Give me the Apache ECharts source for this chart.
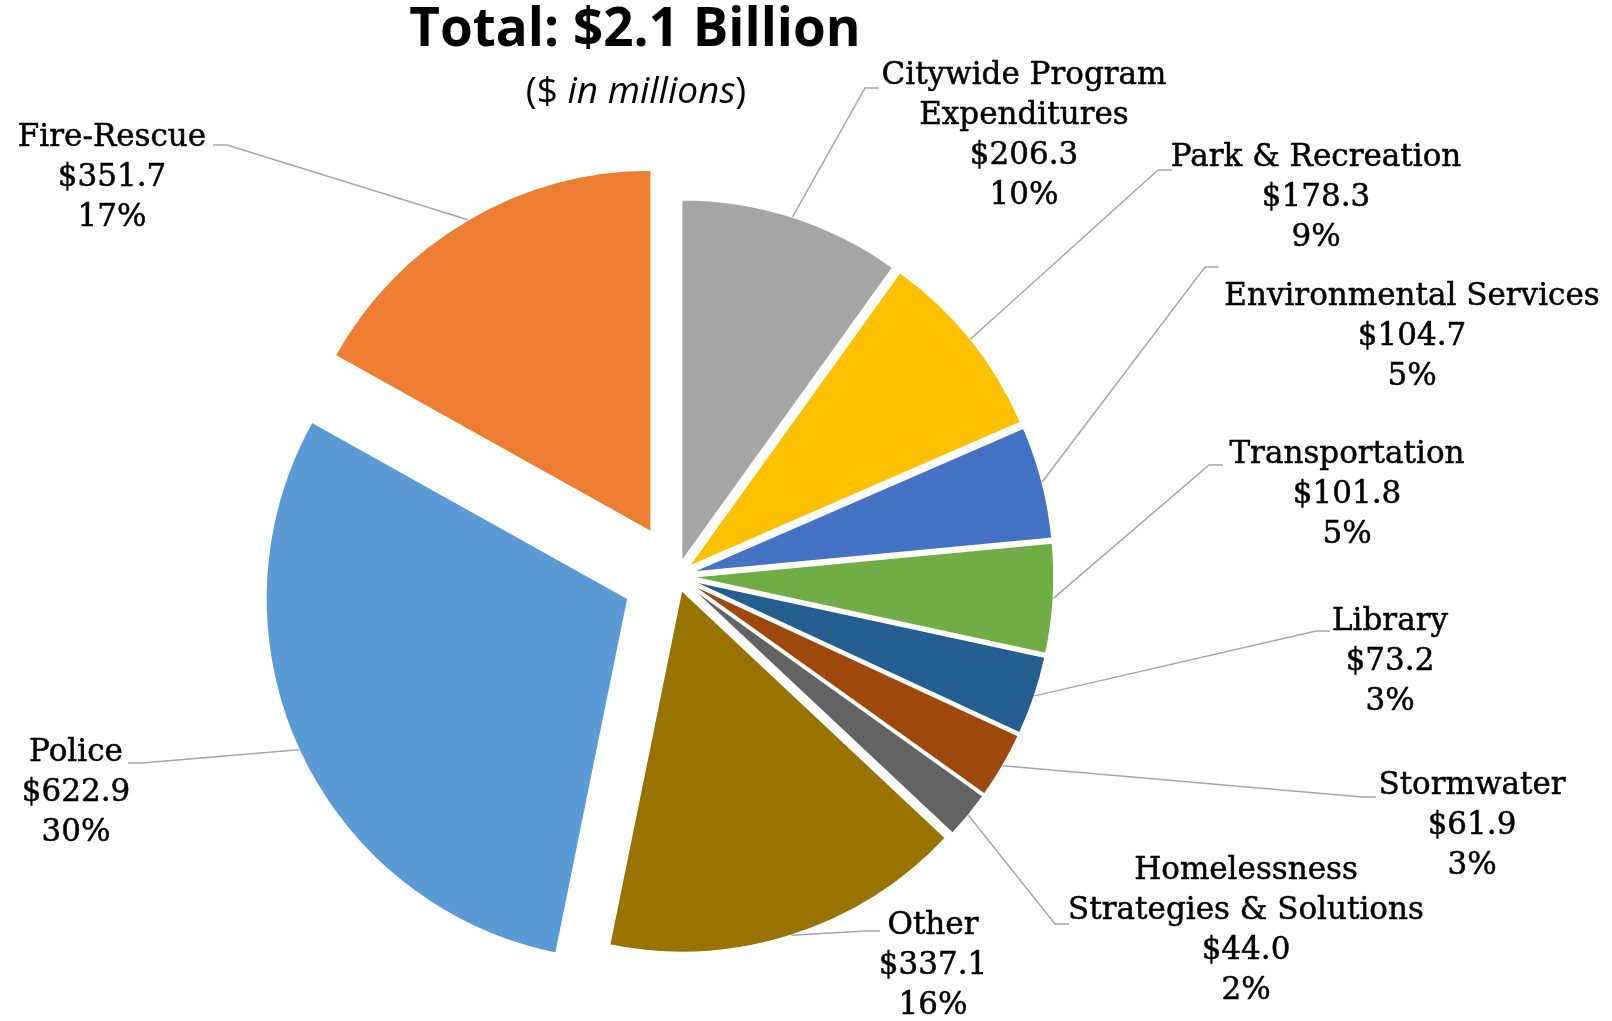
<!DOCTYPE html>
<html><head><meta charset="utf-8">
<script src="https://cdn.jsdelivr.net/npm/echarts@6/dist/echarts.min.js"></script>
<style>html,body{margin:0;padding:0;background:#fff}#c{width:1612px;height:1021px}</style>
</head><body><div id="c"></div>
<script>
// ---- data ----
const categories = ['Citywide Program\nExpenditures', 'Park & Recreation', 'Environmental Services',
  'Transportation', 'Library', 'Stormwater', 'Homelessness\nStrategies & Solutions', 'Other', 'Police', 'Fire-Rescue'];
const values = [206.3, 178.3, 104.7, 101.8, 73.2, 61.9, 44.0, 337.1, 622.9, 351.7];
const colors = ['#A5A5A5', '#FFC000', '#4472C4', '#70AD47', '#255E91', '#9E480E', '#636363', '#997300', '#5B9BD5', '#ED7D31'];
const titleText = 'Total: $2.1 Billion';
const subtitleText = '($ {i|in millions})';

// ---- layout (not data) ----
const pieCenter = [677, 576];
const pieRadius = 362;
const explodeGroups = [
  { offset: 15, members: [0, 1, 2, 3, 4, 5, 6, 7] },
  { offset: 54, members: [8] },
  { offset: 51, members: [9] }
];
// label block centres and leader-line end points
const labelCenters = [[1024, 136], [1316, 198], [1412, 337], [1347, 495], [1390, 662],
  [1472, 826], [1246, 931], [933, 966], [76, 793], [112, 178]];
const leaderEnds = [[879, 88], [1172, 170], [1219, 267], [1223, 465], [1330, 631],
  [1376, 797], [1069, 924], [880, 931], [128, 763], [213, 145]];

const chart = echarts.init(document.getElementById('c'), null, { renderer: 'canvas' });
const clear = 'rgba(0,0,0,0)';
const series = [];

explodeGroups.forEach(function (g) {
  const inG = function (i) { return g.members.indexOf(i) >= 0; };
  series.push({
    type: 'pie', center: pieCenter, radius: pieRadius, startAngle: 90, clockwise: true,
    selectedMode: 'multiple', selectedOffset: g.offset, silent: true, animation: false,
    avoidLabelOverlap: false, emphasis: { disabled: true },
    label: { show: false }, labelLine: { show: false },
    data: values.map(function (v, i) {
      return {
        name: categories[i], value: v, selected: inG(i),
        itemStyle: { color: inG(i) ? colors[i] : clear, borderColor: inG(i) ? '#ffffff' : clear, borderWidth: inG(i) ? 1.5 : 0 }
      };
    })
  });
});

explodeGroups.forEach(function (g) {
  const inG = function (i) { return g.members.indexOf(i) >= 0; };
  series.push({
    type: 'pie', center: pieCenter, radius: pieRadius + g.offset, startAngle: 90, clockwise: true,
    silent: true, animation: false, avoidLabelOverlap: false, percentPrecision: 0, z: 5,
    emphasis: { disabled: true },
    itemStyle: { color: clear, borderWidth: 0 },
    label: {
      show: true, position: 'outside', width: 440, overflow: 'none',
      fontFamily: 'DejaVu Serif', fontSize: 31, lineHeight: 40, color: '#000', align: 'center',
      textBorderColor: '#000', textBorderWidth: 0.5,
      formatter: function (p) { return p.name + '\n$' + p.value.toFixed(1) + '\n' + p.percent + '%'; }
    },
    labelLine: { show: true, length: 10, length2: 10, lineStyle: { color: '#A6A6A6', width: 1.5 } },
    labelLayout: function (p) {
      const i = p.dataIndex;
      const c = labelCenters[i], e = leaderEnds[i];
      const start = p.labelLinePoints ? p.labelLinePoints[0] : e;
      const side = start[0] < e[0] ? -1 : 1;
      return {
        x: c[0], y: c[1], align: 'center', verticalAlign: 'middle',
        labelLinePoints: [start, [e[0] + side * 14, e[1]], e]
      };
    },
    data: values.map(function (v, i) {
      return {
        name: categories[i], value: v,
        itemStyle: { color: clear, borderWidth: 0 },
        label: { show: inG(i) }, labelLine: { show: inG(i) }
      };
    })
  });
});

chart.setOption({
  backgroundColor: '#ffffff',
  animation: false,
  title: [
    { text: titleText, left: 635, top: 2, textAlign: 'center', padding: 0,
      textStyle: { fontFamily: 'Open Sans', fontWeight: 'bold', fontSize: 53, lineHeight: 58, color: '#000' } },
    { text: subtitleText, left: 636, top: 70, textAlign: 'center', padding: 0,
      textStyle: { fontFamily: 'Open Sans', fontWeight: 'normal', fontSize: 37, lineHeight: 44, color: '#000',
        rich: { i: { fontFamily: 'Open Sans', fontStyle: 'italic', fontSize: 37, lineHeight: 44, color: '#000' } } } }
  ],
  series: series
});
</script></body></html>
